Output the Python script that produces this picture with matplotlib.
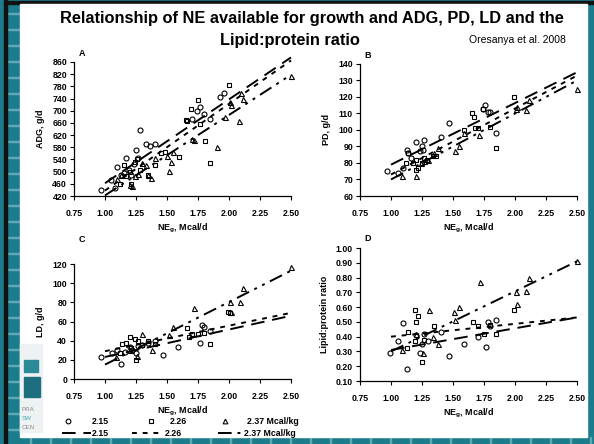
import matplotlib
matplotlib.use("Agg")
import matplotlib.pyplot as plt
from matplotlib.lines import Line2D
from matplotlib.patches import Rectangle

plt.rcParams['font.family'] = ['Liberation Sans', 'DejaVu Sans']

W, H = 594, 444

# ---------------- data ----------------
groups = ["2.15", "2.26", "2.37 Mcal/kg"]

# Panel A: ADG, g/d
a_c_x = [0.97, 1.05, 1.08, 1.10, 1.13, 1.15, 1.17, 1.19, 1.21, 1.23, 1.25, 1.27, 1.28, 1.33, 1.36, 1.40, 1.70, 1.74, 1.77, 1.80, 1.85, 1.93, 1.96]
a_c_y = [440, 472, 446, 515, 490, 495, 545, 505, 488, 525, 572, 545, 636, 590, 585, 592, 672, 698, 712, 688, 672, 746, 758]
a_s_x = [1.12, 1.15, 1.17, 1.20, 1.21, 1.24, 1.26, 1.28, 1.35, 1.40, 1.45, 1.48, 1.60, 1.65, 1.66, 1.69, 1.75, 1.77, 1.81, 1.85, 2.00]
a_s_y = [460, 523, 485, 498, 460, 530, 540, 505, 490, 522, 560, 565, 548, 668, 665, 705, 735, 655, 600, 527, 786]
a_t_x = [1.10, 1.13, 1.20, 1.22, 1.24, 1.27, 1.30, 1.33, 1.35, 1.37, 1.40, 1.50, 1.52, 1.53, 1.55, 1.70, 1.72, 1.90, 1.97, 2.01, 2.02, 2.08, 2.10, 2.11, 2.50]
a_t_y = [475, 490, 455, 452, 485, 492, 528, 522, 490, 478, 545, 550, 502, 530, 565, 607, 605, 582, 678, 728, 718, 665, 758, 740, 815]

# Panel B: PD, g/d
b_c_x = [0.97, 1.06, 1.10, 1.13, 1.14, 1.16, 1.20, 1.23, 1.25, 1.26, 1.27, 1.40, 1.47, 1.74, 1.76, 1.78, 1.80, 1.85]
b_c_y = [75, 74, 77, 88, 86, 83, 93, 87, 90, 88, 94, 96, 104, 113, 115, 111, 111, 98]
b_s_x = [1.12, 1.14, 1.18, 1.20, 1.20, 1.22, 1.25, 1.27, 1.29, 1.34, 1.36, 1.59, 1.65, 1.67, 1.68, 1.70, 1.74, 1.80, 1.85, 1.99]
b_s_y = [80, 86, 80, 82, 76, 77, 80, 83, 82, 84, 84, 100, 110, 108, 101, 101, 113, 102, 89, 120]
b_t_x = [1.09, 1.20, 1.24, 1.27, 1.30, 1.35, 1.38, 1.52, 1.55, 1.59, 1.71, 2.01, 2.02, 2.09, 2.11, 2.50]
b_t_y = [72, 72, 80, 81, 82, 86, 89, 87, 90, 98, 97, 113, 114, 112, 118, 125]

# Panel C: LD, g/d
c_c_x = [0.97, 1.06, 1.10, 1.13, 1.16, 1.20, 1.22, 1.25, 1.27, 1.30, 1.35, 1.40, 1.47, 1.59, 1.77, 1.78, 1.80, 1.85]
c_c_y = [23, 27, 30, 16, 28, 33, 30, 27, 34, 36, 38, 40, 25, 33, 38, 56, 54, 50]
c_s_x = [1.12, 1.14, 1.17, 1.20, 1.21, 1.24, 1.25, 1.27, 1.30, 1.35, 1.40, 1.66, 1.68, 1.70, 1.75, 1.80, 1.85, 1.99, 2.01]
c_s_y = [27, 37, 38, 44, 32, 42, 20, 40, 36, 40, 37, 53, 44, 47, 47, 48, 37, 70, 69]
c_t_x = [1.09, 1.20, 1.26, 1.30, 1.38, 1.52, 1.55, 1.72, 2.01, 2.02, 2.09, 2.11, 2.50]
c_t_y = [23, 30, 24, 47, 30, 46, 54, 74, 80, 70, 80, 95, 117]

# Panel D: Lipid:protein ratio
d_c_x = [0.99, 1.06, 1.10, 1.13, 1.20, 1.23, 1.25, 1.27, 1.30, 1.40, 1.47, 1.59, 1.70, 1.77, 1.78, 1.80, 1.85]
d_c_y = [0.29, 0.37, 0.49, 0.18, 0.41, 0.29, 0.35, 0.42, 0.37, 0.43, 0.27, 0.35, 0.40, 0.33, 0.50, 0.47, 0.51]
d_s_x = [1.13, 1.14, 1.19, 1.19, 1.20, 1.22, 1.25, 1.27, 1.35, 1.66, 1.70, 1.75, 1.80, 1.85, 1.99]
d_s_y = [0.32, 0.43, 0.37, 0.58, 0.50, 0.54, 0.23, 0.38, 0.47, 0.50, 0.47, 0.42, 0.48, 0.42, 0.58]
d_t_x = [1.09, 1.20, 1.26, 1.31, 1.34, 1.38, 1.51, 1.52, 1.55, 1.72, 2.01, 2.02, 2.09, 2.11, 2.50]
d_t_y = [0.31, 0.42, 0.29, 0.58, 0.40, 0.35, 0.57, 0.51, 0.60, 0.77, 0.70, 0.62, 0.71, 0.80, 0.91]

# regression lines: x range and fitted y at the ends, per group (2.15, 2.26, 2.37)
line_x = [1.0, 2.5]
a_lines = [[462, 875], [438, 865], [422, 818]]
b_lines = [[79, 135], [73, 133], [70, 130]]
c_lines = [[23, 66], [29, 69], [15, 113]]
d_lines = [[0.31, 0.53], [0.40, 0.53], [0.30, 0.91]]

x_ticks = [0.75, 1.00, 1.25, 1.50, 1.75, 2.00, 2.25, 2.50]
a_yticks = list(range(420, 861, 40))
b_yticks = list(range(60, 141, 10))
c_yticks = list(range(0, 121, 20))
d_yticks = [0.10, 0.20, 0.30, 0.40, 0.50, 0.60, 0.70, 0.80, 0.90, 1.00]

# ---------------- figure / slide background ----------------
fig = plt.figure(figsize=(W / 100, H / 100), dpi=100)
teal = "#1b7d8c"
fig.patches.append(Rectangle((0, 0), 1, 1, transform=fig.transFigure, color=teal, zorder=-10))
for yy in range(14, 440, 16):
    fig.patches.append(Rectangle((7 / W, 1 - yy / H), 13 / W, 1 / H, transform=fig.transFigure,
                                 color="#5fa9b5", zorder=-9))
for xx in range(30, 594, 20):
    fig.patches.append(Rectangle((xx / W, 0), 1 / W, 7 / H, transform=fig.transFigure,
                                 color="#5fa9b5", zorder=-9))
fig.patches.append(Rectangle((4 / W, 0), 3 / W, 1, transform=fig.transFigure, color="#111111", zorder=-8))
fig.patches.append(Rectangle((4 / W, 1 - 4 / H), 1, 3 / H, transform=fig.transFigure, color="#111111", zorder=-8))
fig.patches.append(Rectangle((20 / W, 1 - 437 / H), 567 / W, 433 / H, transform=fig.transFigure,
                             color="white", zorder=-7))
# logo fragment
fig.patches.append(Rectangle((20 / W, 1 - 432 / H), 22 / W, 88 / H, transform=fig.transFigure,
                             color="#eef2f2", zorder=-6))
fig.patches.append(Rectangle((24 / W, 1 - 372 / H), 14 / W, 12 / H, transform=fig.transFigure,
                             color="#2a8a98", zorder=-5))
fig.patches.append(Rectangle((24 / W, 1 - 397 / H), 16 / W, 20 / H, transform=fig.transFigure,
                             color="#1d6f80", zorder=-5))
fig.text(22 / W, 1 - 409 / H, "PRA", fontsize=4.5, color="#8a8a8a", va="center")
fig.text(22 / W, 1 - 418 / H, "SW", fontsize=4.5, color="#4aa8b8", va="center")
fig.text(22 / W, 1 - 427 / H, "CEN", fontsize=4.5, color="#8a8a8a", va="center")

# ---------------- titles ----------------
fig.text(312 / W, 1 - 19 / H, "Relationship of NE available for growth and ADG, PD, LD and the",
         ha="center", va="center", fontsize=11.8, fontweight="bold")
fig.text(290 / W, 1 - 40 / H, "Lipid:protein ratio", ha="center", va="center",
         fontsize=11.8, fontweight="bold")
fig.text(517 / W, 1 - 40 / H, "Oresanya et al. 2008", ha="center", va="center", fontsize=7.5)

# ---------------- panels ----------------
styles = [
    dict(marker="o", dashes=(7, 4)),
    dict(marker="s", dashes=(2.5, 3)),
    dict(marker="^", dashes=(7, 3, 1.5, 3, 1.5, 3)),
]

panels = [
    ("A", [74, 62, 291, 196], (420, 860), a_yticks, "ADG, g/d", "{:.0f}",
     [(a_c_x, a_c_y), (a_s_x, a_s_y), (a_t_x, a_t_y)], a_lines, 53),
    ("B", [360, 64, 577, 196], (60, 140), b_yticks, "PD, g/d", "{:.0f}",
     [(b_c_x, b_c_y), (b_s_x, b_s_y), (b_t_x, b_t_y)], b_lines, 55),
    ("C", [74, 264, 291, 379], (0, 120), c_yticks, "LD, g/d", "{:.0f}",
     [(c_c_x, c_c_y), (c_s_x, c_s_y), (c_t_x, c_t_y)], c_lines, 239),
    ("D", [360, 248, 577, 381], (0.10, 1.00), d_yticks, "Lipid:protein ratio", "{:.2f}",
     [(d_c_x, d_c_y), (d_s_x, d_s_y), (d_t_x, d_t_y)], d_lines, 238),
]

for letter, (l, t, r, b), ylim, yticks, ylabel, fmt, pts, lines, ly in panels:
    ax = fig.add_axes([l / W, 1 - b / H, (r - l) / W, (b - t) / H])
    ax.set_facecolor("none")
    for (xs, ys), st in zip(pts, styles):
        ax.plot(xs, ys, linestyle="none", marker=st["marker"], markersize=3.6 if st["marker"] != "s" else 3.4,
                markerfacecolor="none", markeredgecolor="black", markeredgewidth=0.8, clip_on=False)
    for ln, st in zip(lines, styles):
        ax.plot(line_x, ln, color="black", linewidth=1.4, dashes=st["dashes"], clip_on=False)
    ax.set_xlim(0.75, 2.5)
    ax.set_ylim(*ylim)
    ax.set_xticks(x_ticks)
    ax.set_xticklabels(["{:.2f}".format(v) for v in x_ticks])
    ax.set_yticks(yticks)
    ax.set_yticklabels([fmt.format(v) for v in yticks])
    for s in ("top", "right"):
        ax.spines[s].set_visible(False)
    for s in ("left", "bottom"):
        ax.spines[s].set_linewidth(0.9)
    ax.tick_params(direction="out", length=3, width=0.8, pad=2, labelsize=6.3)
    for lab in ax.get_xticklabels() + ax.get_yticklabels():
        lab.set_fontweight("bold")
    ax.tick_params(axis="x", pad=6)
    ax.set_ylabel(ylabel, fontsize=6.5, fontweight="bold", labelpad=5)
    ax.set_xlabel(r"NE$_{\mathregular{g}}$, Mcal/d", fontsize=6.5, fontweight="bold", labelpad=3)
    fig.text((l + 8) / W, 1 - ly / H, letter, fontsize=6.5, fontweight="bold", ha="center", va="center")

# ---------------- legend ----------------
def fx(x):
    return x / W

def fy(y):
    return 1 - y / H

row1, row2 = 421, 433
marker_pos = [68, 151, 225]
text1_pos = [92, 170, 247]
for m, px, tx, lab in zip(["o", "s", "^"], marker_pos, text1_pos, groups):
    fig.add_artist(Line2D([fx(px)], [fy(row1)], transform=fig.transFigure, linestyle="none", marker=m,
                          markersize=3.4, markerfacecolor="none", markeredgecolor="black",
                          markeredgewidth=0.8))
    fig.text(fx(tx), fy(row1), lab, fontsize=6.3, fontweight="bold", va="center", ha="left")

seg = [(62, 91), (132, 163), (218, 243)]
text2_pos = [92, 165, 244]
for (x0, x1), tx, st, lab in zip(seg, text2_pos, styles, groups):
    fig.add_artist(Line2D([fx(x0), fx(x1)], [fy(row2), fy(row2)], transform=fig.transFigure,
                          color="black", linewidth=1.4, dashes=st["dashes"]))
    fig.text(fx(tx), fy(row2), lab, fontsize=6.3, fontweight="bold", va="center", ha="left")

fig.savefig("out.png", dpi=100)
